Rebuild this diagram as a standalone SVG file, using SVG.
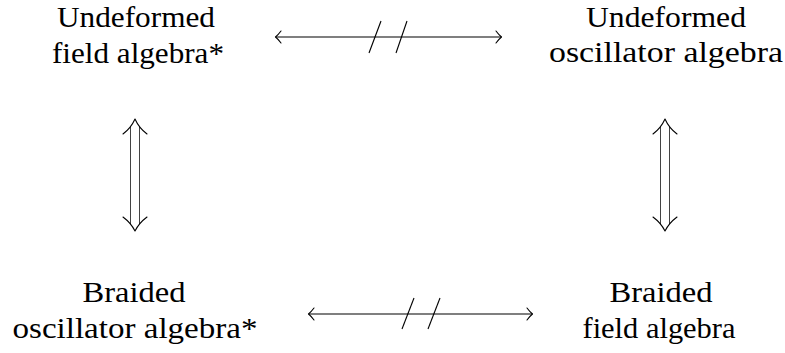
<svg xmlns="http://www.w3.org/2000/svg" width="785" height="353" viewBox="0 0 785 353">
<style>
  .t { font-family: "Liberation Serif", "Times New Roman", Times, "Nimbus Roman", "Noto Serif", "DejaVu Serif", FreeSerif, Tinos, serif; font-size: 30px; fill: #000; text-anchor: middle; }
  .ln { stroke: #000; stroke-width: 1.1; fill: none; }
  .dl { stroke: #444; stroke-width: 1; fill: none; }
  .hd { stroke: #000; stroke-width: 1.1; fill: none; stroke-linecap: round; stroke-linejoin: round; }
</style>
<rect width="785" height="353" fill="#fff"/>
<g id="n-undeformed-field">
  <text class="t" x="136" y="27" textLength="158" lengthAdjust="spacingAndGlyphs">Undeformed</text>
  <text class="t" x="138" y="63" textLength="172" lengthAdjust="spacingAndGlyphs">field algebra*</text>
</g>
<g id="n-undeformed-osc">
  <text class="t" x="666" y="27" textLength="160" lengthAdjust="spacingAndGlyphs">Undeformed</text>
  <text class="t" x="666" y="62" textLength="234" lengthAdjust="spacingAndGlyphs">oscillator algebra</text>
</g>
<g id="n-braided-osc">
  <text class="t" x="134" y="302" textLength="103" lengthAdjust="spacingAndGlyphs">Braided</text>
  <text class="t" x="135" y="338" textLength="245" lengthAdjust="spacingAndGlyphs">oscillator algebra*</text>
</g>
<g id="n-braided-field">
  <text class="t" x="661" y="302" textLength="103" lengthAdjust="spacingAndGlyphs">Braided</text>
  <text class="t" x="659" y="338" textLength="153" lengthAdjust="spacingAndGlyphs">field algebra</text>
</g>
<g id="connectors">
  <line class="ln" x1="275.5" y1="37" x2="501.5" y2="37"/>
  <path class="hd" d="M281,31 Q278,35 275.5,37 Q278,39 281,43"/>
  <path class="hd" d="M496,31 Q499,35 501.5,37 Q499,39 496,43"/>
  <line class="ln" x1="369" y1="53" x2="381" y2="21"/>
  <line class="ln" x1="396" y1="53" x2="407" y2="21"/>
  <line class="ln" x1="308.5" y1="314" x2="532.5" y2="314"/>
  <path class="hd" d="M314,308 Q311,312 308.5,314 Q311,316 314,320"/>
  <path class="hd" d="M527,308 Q530,312 532.5,314 Q530,316 527,320"/>
  <line class="ln" x1="402" y1="329" x2="414" y2="298"/>
  <line class="ln" x1="428" y1="329" x2="440" y2="298"/>
  <line class="dl" x1="130.5" y1="127" x2="130.5" y2="224"/>
  <line class="dl" x1="139.5" y1="127" x2="139.5" y2="224"/>
  <path class="hd" d="M123,134 Q131,128 135,119 Q139,128 147,134"/>
  <path class="hd" d="M123,217 Q131,223 135,231 Q139,223 147,217"/>
  <line class="dl" x1="660.5" y1="127" x2="660.5" y2="224"/>
  <line class="dl" x1="669.5" y1="127" x2="669.5" y2="224"/>
  <path class="hd" d="M653,134 Q661,128 665,119 Q669,128 677,134"/>
  <path class="hd" d="M653,217 Q661,223 665,231 Q669,223 677,217"/>
</g>
</svg>
